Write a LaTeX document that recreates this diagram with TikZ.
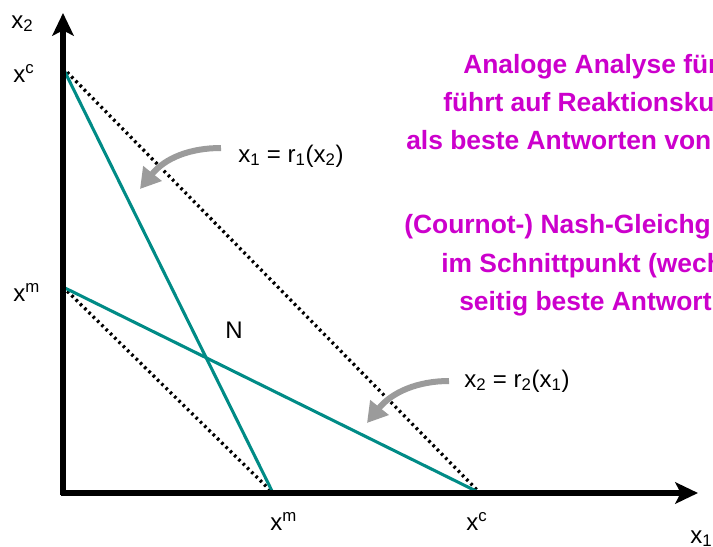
\documentclass[tikz,border=0pt]{standalone}
\usepackage{fontspec}
\setmainfont{Liberation Sans}
\usetikzlibrary{arrows.meta}
\definecolor{tealline}{HTML}{008B86}
\definecolor{magtext}{HTML}{CC00CC}
\definecolor{grayarr}{HTML}{9B9B9B}
\tikzset{
  axis/.style={line width=3.8pt, -{Stealth[length=17pt,width=16pt,inset=4pt]}},
  react/.style={tealline, line width=2.3pt},
  iso/.style={black, line width=2.5pt, dash pattern=on 1.9pt off 2.6pt},
  pointer/.style={grayarr, line width=4.5pt, -{Triangle[length=15pt,width=17pt]}},
  lbl/.style={font=\fontsize{18}{21}\selectfont, inner sep=0pt},
  note/.style={magtext, font=\fontsize{19.8}{23}\bfseries\selectfont, inner sep=0pt, anchor=base west},
}
\begin{document}
\begin{tikzpicture}[x=0.75pt,y=-0.75pt]
\useasboundingbox (0,0) rectangle (713,546);
\begin{scope}
\clip (0,0) rectangle (713,546);
% coordinates
\coordinate (O) at (63,493);
\coordinate (ytip) at (63,13);
\coordinate (xtip) at (698,493);
\coordinate (yc) at (63,68);
\coordinate (ym) at (63,287);
\coordinate (xm) at (273,493);
\coordinate (xc) at (480,493);
% dotted iso lines
\draw[iso] (yc) -- (xc);
\draw[iso] (ym) -- (xm);
% reaction curves
\draw[react] (yc) -- (xm);
\draw[react] (ym) -- (xc);
% axes
\draw[axis] (63,495) -- (ytip);
\draw[axis] (61,493) -- (xtip);
% axis labels
\node[lbl, anchor=base west] (lx2) at (11,28) {x\textsubscript{2}};
\node[lbl, anchor=base west] (lx1) at (690,543) {x\textsubscript{1}};
\node[lbl, anchor=base west] (lyc) at (13,82) {x\textsuperscript{c}};
\node[lbl, anchor=base west] (lym) at (13,301) {x\textsuperscript{m}};
\node[lbl, anchor=base west] (lxm) at (270,530) {x\textsuperscript{m}};
\node[lbl, anchor=base west] (lxc) at (466,530) {x\textsuperscript{c}};
\node[lbl, anchor=base west] (N) at (225,338) {N};
% reaction labels
\node[lbl, anchor=base west] (r1) at (238,162) {x\textsubscript{1} = r\textsubscript{1}(x\textsubscript{2})};
\node[lbl, anchor=base west] (r2) at (464,387) {x\textsubscript{2} = r\textsubscript{2}(x\textsubscript{1})};
% gray pointers
\coordinate (p1s) at (221,148);
\coordinate (p1e) at (140,189);
\coordinate (p2s) at (449,381);
\coordinate (p2e) at (367,423);
\draw[pointer] (p1s) .. controls (190,148) and (165,158) .. (p1e);
\draw[pointer] (p2s) .. controls (418,381) and (392,392) .. (p2e);
% magenta notes
\node[note] (t1) at (463,73) {Analoge Analyse für};
\node[note] (t2) at (443,111) {führt auf Reaktionsku};
\node[note] (t3) at (406,149) {als beste Antworten von};
\node[note] (t4) at (404,233) {(Cournot-) Nash-Gleichg};
\node[note] (t5) at (441,272) {im Schnittpunkt (wech};
\node[note] (t6) at (459,310) {seitig beste Antwort};
\end{scope}
\end{tikzpicture}
\end{document}
